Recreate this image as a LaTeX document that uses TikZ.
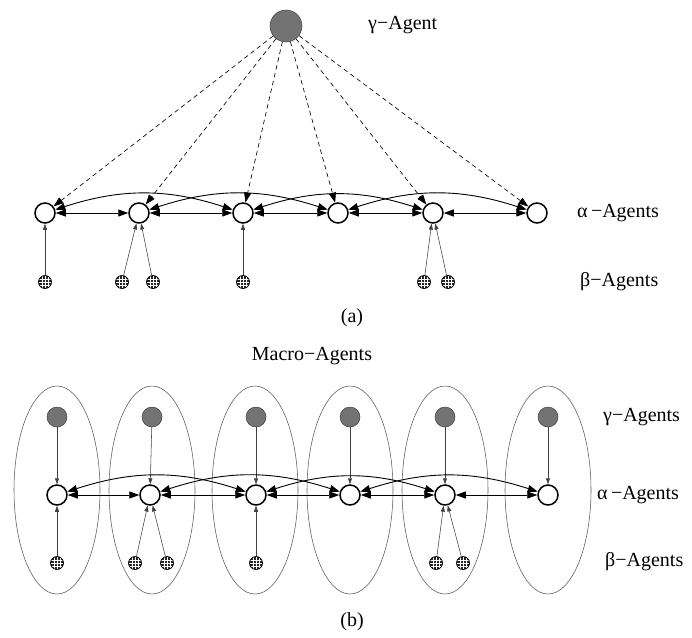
\documentclass[tikz,border=0pt]{standalone}
\usepackage{fontspec}
\setmainfont{Liberation Serif}
\usetikzlibrary{arrows.meta,shapes.geometric}
\begin{document}
\begin{tikzpicture}[x=1pt,y=-1pt,
  agentA/.style={circle,draw=black,fill=white,line width=1.5pt,minimum size=20pt,inner sep=0pt},
  agentGbig/.style={circle,draw=black!75,fill=black!55,line width=0.5pt,minimum size=32pt,inner sep=0pt},
  agentG/.style={circle,draw=black!75,fill=black!55,line width=0.5pt,minimum size=20pt,inner sep=0pt},
  agentB/.style={circle,draw=black,fill=black!85,line width=0.7pt,minimum size=13pt,inner sep=0pt,
    path picture={
      \foreach \d in {-3.2,0,3.2}{
        \draw[white,line width=0.35pt] ([xshift=\d pt]path picture bounding box.north) -- ([xshift=\d pt]path picture bounding box.south);
        \draw[white,line width=0.35pt] ([yshift=\d pt]path picture bounding box.west) -- ([yshift=\d pt]path picture bounding box.east);
      }}},
  txt/.style={font=\fontsize{20}{23}\selectfont,inner sep=0pt},
  lbl/.style={txt,anchor=west},
  link/.style={{Triangle[length=10pt,width=7pt]}-{Triangle[length=10pt,width=7pt]},line width=0.9pt},
  feed/.style={-{Triangle[length=6pt,width=4pt]},line width=0.55pt,draw=black!75},
  bcast/.style={dash pattern=on 4.5pt off 3.5pt,-{Triangle[length=10pt,width=7pt]},line width=0.65pt},
  macro/.style={ellipse,draw=black!65,line width=0.55pt,minimum width=86pt,minimum height=208pt,inner sep=0pt}
]
\useasboundingbox (0,0) rectangle (692,637);

% ---------------- (a) single gamma agent ----------------
\node[agentGbig] (G) at (286,26) {};
\node[lbl] (lG) at (368,25) {γ−Agent};

\foreach \i/\x in {1/45,2/139,3/243,4/338,5/433,6/537}
  \node[agentA] (a\i) at (\x,213) {};
\node[lbl] (lA) at (577,213) {α\,−Agents};

\foreach \i/\x in {1/45,2/122,3/153,4/243,5/424,6/448}
  \node[agentB] (b\i) at (\x,282) {};
\node[lbl] (lB) at (580,282) {β−Agents};

\foreach \i in {1,...,6}
  \draw[bcast] (G) -- (a\i);

\foreach \i/\j in {1/2,2/3,3/4,4/5,5/6}
  \draw[link] (a\i) -- (a\j);
\foreach \i/\j in {1/3,2/4,3/5,4/6}
  \draw[link] (a\i) to[bend left=18] (a\j);

\foreach \b/\a in {1/1,2/2,3/2,4/3,5/5,6/5}
  \draw[feed] (b\b) -- (a\a);

\node[txt] (capa) at (352,318) {(a)};
\node[txt] (lM) at (312,356) {Macro−Agents};

% ---------------- (b) macro agents ----------------
\foreach \i/\x in {1/57,2/152,3/255,4/350,5/445,6/548}
  \node[macro] (m\i) at (\x,490) {};

\foreach \i/\x in {1/57,2/152,3/256,4/350,5/445,6/548}
  \node[agentG] (g\i) at (\x,417) {};
\node[lbl] (lg) at (603,417) {γ−Agents};

\foreach \i/\x in {1/57,2/150,3/256,4/350,5/445,6/548}
  \node[agentA] (c\i) at (\x,495) {};
\node[lbl] (lc) at (597,495) {α\,−Agents};

\foreach \i/\x in {1/57,2/135,3/167,4/256,5/436,6/463}
  \node[agentB] (d\i) at (\x,563) {};
\node[lbl] (ld) at (605,562) {β−Agents};

\foreach \i in {1,...,6}
  \draw[feed] (g\i) -- (c\i);

\foreach \i/\j in {1/2,2/3,3/4,4/5,5/6}
  \draw[link] (c\i) -- (c\j);
\foreach \i/\j in {1/3,2/4,3/5,4/6}
  \draw[link] (c\i) to[bend left=18] (c\j);

\foreach \b/\a in {1/1,2/2,3/2,4/3,5/5,6/5}
  \draw[feed] (d\b) -- (c\a);

\node[txt] (capb) at (352,622) {(b)};
\end{tikzpicture}
\end{document}
